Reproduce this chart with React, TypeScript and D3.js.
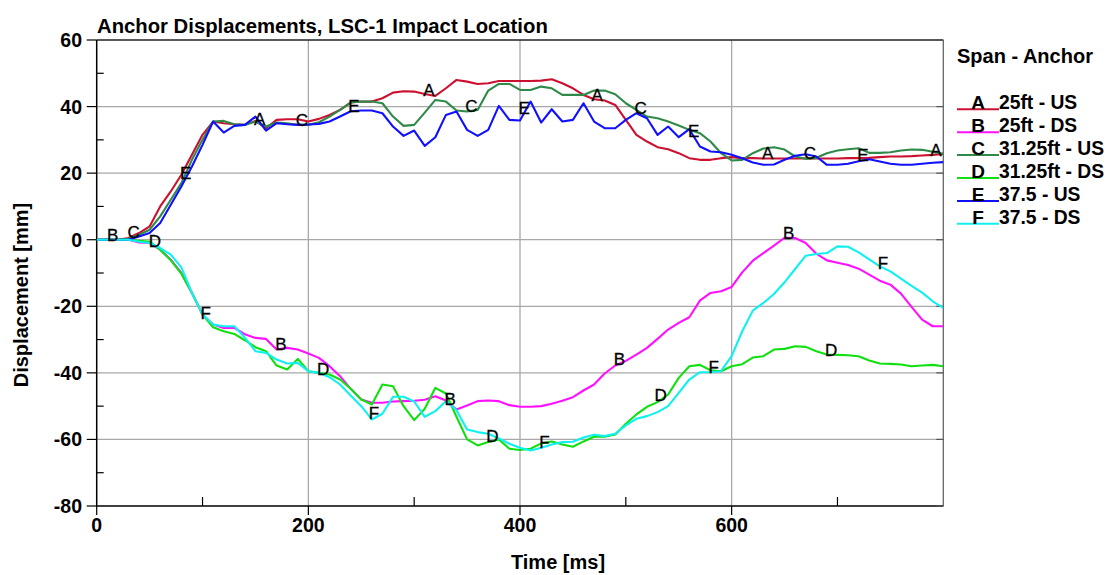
import React from "react";
import * as d3 from "d3";

// ---------- data ----------
const TIME_MS = [
  0, 10, 20, 30, 40, 50, 60, 70, 80, 90, 100, 110, 120, 130, 140, 150, 160, 170, 180, 190,
  200, 210, 220, 230, 240, 250, 260, 270, 280, 290, 300, 310, 320, 330, 340, 350, 360, 370, 380, 390,
  400, 410, 420, 430, 440, 450, 460, 470, 480, 490, 500, 510, 520, 530, 540, 550, 560, 570, 580, 590,
  600, 610, 620, 630, 640, 650, 660, 670, 680, 690, 700, 710, 720, 730, 740, 750, 760, 770, 780, 790, 800,
];

const A_25FT_US = [
  0, 0, 0, 0.5, 2, 4, 10, 14.5, 19.5, 25.5, 31.5, 35.5, 35, 34.7, 34.5, 35.7, 33.5, 36, 36.2, 36.2,
  35.5, 36.3, 37.5, 39, 41.2, 41.5, 41.5, 42.5, 44.2, 44.6, 44.5, 43.8, 43.2, 45.5, 48, 47.5, 46.8, 47, 47.7, 47.7,
  47.7, 47.7, 47.8, 48.2, 47, 45.5, 43.5, 42.2, 41.8, 40.5, 36, 31.5, 29.5, 27.8, 27.2, 26, 24.5, 24, 24, 24.5,
  24.8, 24.5, 24.5, 24.4, 24.4, 24.4, 24.4, 24.4, 24.4, 24.4, 24.4, 24.5, 24.5, 24.6, 24.8, 25, 25, 25.1, 25.3, 25.5, 25.8,
];

const B_25FT_DS = [
  0, 0, 0, 0, -0.8, -1, -3, -6, -10, -16, -22.5, -25.5, -26.5, -26.5, -28.4, -29.5, -29.8, -33, -32.5, -33,
  -34.2, -35.5, -38, -41, -44.8, -48, -49, -49, -48.6, -48.5, -48.4, -48.1, -47, -48.3, -51, -49.8, -48.5, -48.3, -48.5, -49.7,
  -50.2, -50.2, -50, -49.3, -48.4, -47.3, -45.3, -43.5, -40.2, -37.8, -36.4, -34.5, -32.5, -29.8, -27, -25, -23.3, -18.3, -16, -15.5,
  -14.2, -9.8, -6.3, -4, -1.8, 0.6, 0.5, -1, -4.2, -6.2, -6.9, -7.6, -8.7, -10.5, -12.3, -13.5, -16.2, -20.2, -24, -26, -26,
];

const C_3125FT_US = [
  0, 0, 0, 0.3, 1.5, 3, 7, 12, 17, 24, 30, 35.5, 35.7, 34.7, 34.5, 35.5, 34, 35.2, 35, 34.5,
  34.5, 35.3, 37, 39, 41.2, 41.5, 41.5, 41, 37, 34.2, 34.5, 38.2, 42, 41.5, 38.8, 38.5, 39, 44.8, 46.8, 46.8,
  45, 45, 46, 45.5, 43.5, 43.5, 43.5, 44.8, 44.8, 43.7, 41, 39, 37, 36.5, 35.5, 34.3, 33, 32, 29.5, 26,
  23.8, 24, 26, 27.4, 27.8, 27.1, 25, 24.3, 24.6, 26, 26.8, 27.2, 27.5, 26.1, 26.1, 26.3, 26.8, 27.1, 27, 26.4, 25.8,
];

const D_3125FT_DS = [
  0, 0, 0, 0, -0.3, -0.6, -3, -6.2, -10.2, -16, -22.5, -26.3, -27.5, -28.3, -30.2, -32.3, -33.5, -37.8, -39, -35.8,
  -39.5, -40, -40.5, -42, -44.8, -48, -49.5, -43.5, -44, -50, -54.2, -50.8, -44.5, -46.2, -53.2, -60, -61.8, -60.8, -60, -62.8,
  -63.2, -62.8, -61.2, -60.6, -61.5, -62.2, -60.6, -59.2, -59.2, -58.5, -55.3, -52.5, -50.2, -48.8, -46.5, -41.5, -38, -37.6, -39.2, -39.5,
  -38, -37.4, -35.4, -35, -33, -32.8, -32, -32.2, -33.5, -34.5, -34.6, -34.7, -35, -36.3, -37.2, -37.3, -37.5, -38, -37.8, -37.6, -38,
];

const E_375_US = [
  0, 0, 0, 0, 1, 2, 5, 10.5, 16, 22, 28.5, 35.5, 32.2, 34.2, 34.5, 37, 32.8, 35, 34.7, 34.5,
  34.6, 34.8, 35.5, 37, 38.6, 38.8, 38.8, 38, 34, 31.2, 32.8, 28.2, 30.8, 37.5, 38.5, 33, 31.2, 33, 40.2, 36,
  35.8, 41.5, 35.2, 39.2, 35.5, 36, 41, 35.5, 33.5, 33.5, 36, 38, 36.5, 31.5, 34, 30.8, 33.2, 28, 26.5, 26.3,
  25.5, 24.5, 23.2, 22.5, 22.6, 24, 25.2, 25.7, 25, 22.5, 22.5, 22.8, 23.6, 24.2, 23.5, 22.8, 22.5, 22.5, 22.8, 23.1, 23.3,
];

const F_375_DS = [
  0, 0, 0, 0, -0.6, -1, -2.5, -4.5, -8.3, -16, -22.5, -25.5, -26, -26, -29.4, -33.5, -34, -36, -37.2, -37,
  -39.5, -40, -41.3, -43.5, -46.8, -50, -54, -52.3, -47.2, -47.2, -48.6, -53.2, -51.5, -48.5, -51.2, -57, -57.8, -58.3, -59.7, -61.3,
  -62.5, -63.3, -62.5, -61.5, -60.8, -60.7, -59.4, -58.6, -59, -58.3, -55.8, -53.8, -53, -51.8, -50, -46, -42, -39.8, -39.8, -39.5,
  -35, -27.5, -21.3, -19, -16.3, -12.8, -8.8, -4.8, -4.3, -4, -2, -2.1, -3.8, -5.9, -8, -9.5, -11.7, -13.9, -15.9, -18.5, -20.5,
];

const SERIES_LETTERS = ["A", "B", "C", "D", "E", "F"];
const SERIES_NAMES = ["25ft - US", "25ft - DS", "31.25ft - US", "31.25ft - DS", "37.5 - US", "37.5 - DS"];
const SERIES_COLORS = ["#cc1030", "#ff10ff", "#2f8a4a", "#10e010", "#1010ff", "#10f0f0"];
const SERIES_VALUES = [A_25FT_US, B_25FT_DS, C_3125FT_US, D_3125FT_DS, E_375_US, F_375_DS];

// times (ms) at which the letter markers sit on each curve
const LABEL_TIMES_A = [154, 314, 473, 634, 793];
const LABEL_TIMES_B = [15, 174, 334, 494, 654];
const LABEL_TIMES_C = [35, 194, 354, 514, 674];
const LABEL_TIMES_D = [55, 214, 374, 533, 694];
const LABEL_TIMES_E = [84, 243, 404, 564, 724];
const LABEL_TIMES_F = [103, 262, 423, 583, 743];
const LABEL_TIMES = [LABEL_TIMES_A, LABEL_TIMES_B, LABEL_TIMES_C, LABEL_TIMES_D, LABEL_TIMES_E, LABEL_TIMES_F];

const X_TICKS = [0, 200, 400, 600];
const X_MINOR = [100, 300, 500, 700];
const X_GRID = [200, 400, 600];
const Y_TICKS = [60, 40, 20, 0, -20, -40, -60, -80];
const Y_MINOR = [50, 30, 10, -10, -30, -50, -70];
const Y_GRID = [40, 20, 0, -20, -40, -60];

const TITLE = "Anchor Displacements, LSC-1 Impact Location";
const X_TITLE = "Time [ms]";
const Y_TITLE = "Displacement [mm]";
const LEGEND_TITLE = "Span - Anchor";

// ---------- chart ----------
const W = 1109;
const H = 575;
const FONT = "'Liberation Sans', Arial, sans-serif";

export default function App() {
  const x = d3.scaleLinear().domain([0, 800]).range([96.7, 943.3]);
  const y = d3.scaleLinear().domain([-80, 60]).range([506, 40]);
  const [x0, x1] = x.range();
  const [yb, yt] = y.range();

  const line = d3
    .line<number>()
    .x((_, i) => x(TIME_MS[i]))
    .y((d) => y(d));

  const interp = (vals: number[], t: number) => {
    const i = d3.bisectRight(TIME_MS, t) - 1;
    const j = Math.min(i + 1, TIME_MS.length - 1);
    if (i === j) return vals[i];
    const f = (t - TIME_MS[i]) / (TIME_MS[j] - TIME_MS[i]);
    return vals[i] + f * (vals[j] - vals[i]);
  };

  return (
    <svg
      width={W}
      height={H}
      style={{ position: "absolute", left: 0, top: 0, background: "#fff" }}
      fontFamily={FONT}
    >
      <rect x={0} y={0} width={W} height={H} fill="#fff" />
      <defs>
        <clipPath id="plotClip">
          <rect x={x0} y={yt} width={x1 - x0} height={yb - yt} />
        </clipPath>
      </defs>

      {/* grid */}
      {X_GRID.map((t) => (
        <line key={"gx" + t} x1={x(t)} x2={x(t)} y1={yt} y2={yb} stroke="#a8a8a8" strokeWidth={1.3} />
      ))}
      {Y_GRID.map((v) => (
        <line key={"gy" + v} x1={x0} x2={x1} y1={y(v)} y2={y(v)} stroke="#a8a8a8" strokeWidth={1.3} />
      ))}

      {/* frame */}
      <line x1={x0} x2={x1} y1={yt} y2={yt} stroke="#222" strokeWidth={1.3} />
      <line x1={x1} x2={x1} y1={yt} y2={yb} stroke="#666" strokeWidth={1.3} />
      <line x1={x0} x2={x0} y1={yt} y2={yb} stroke="#000" strokeWidth={1.5} />
      <line x1={x0} x2={x1} y1={yb} y2={yb} stroke="#000" strokeWidth={1.5} />

      {/* y ticks */}
      {Y_TICKS.map((v) => (
        <g key={"yt" + v}>
          <line x1={x0 - 10} x2={x0} y1={y(v)} y2={y(v)} stroke="#000" strokeWidth={1.2} />
          <line x1={x1 - 7} x2={x1} y1={y(v)} y2={y(v)} stroke="#555" strokeWidth={1.2} />
          <text x={82} y={y(v)} dy="0.36em" textAnchor="end" fontSize={19.5} fontWeight="bold" fill="#000">
            {v}
          </text>
        </g>
      ))}
      {Y_MINOR.map((v) => (
        <line key={"ym" + v} x1={x0} x2={x0 + 7} y1={y(v)} y2={y(v)} stroke="#000" strokeWidth={1.2} />
      ))}

      {/* x ticks */}
      {X_TICKS.map((t) => (
        <g key={"xt" + t}>
          <line x1={x(t)} x2={x(t)} y1={yb} y2={yb + 9} stroke="#000" strokeWidth={1.2} />
          <text x={x(t)} y={532} textAnchor="middle" fontSize={19.5} fontWeight="bold" fill="#000">
            {t}
          </text>
        </g>
      ))}
      {X_MINOR.map((t) => (
        <line key={"xm" + t} x1={x(t)} x2={x(t)} y1={yb - 9} y2={yb} stroke="#000" strokeWidth={1.2} />
      ))}

      {/* series */}
      <g clipPath="url(#plotClip)">
        {SERIES_VALUES.map((vals, k) => (
          <path
            key={"s" + k}
            d={line(vals) || ""}
            fill="none"
            stroke={SERIES_COLORS[k]}
            strokeWidth={2.1}
            strokeLinejoin="round"
          />
        ))}
      </g>

      {/* letters on curves */}
      {LABEL_TIMES.map((times, k) =>
        times.map((t) => (
          <text
            key={"l" + k + "_" + t}
            x={x(t)}
            y={y(interp(SERIES_VALUES[k], t)) + 1}
            textAnchor="middle"
            fontSize={17}
            fill="#000"
            stroke="#000"
            strokeWidth={0.3}
          >
            {SERIES_LETTERS[k]}
          </text>
        ))
      )}

      {/* titles */}
      <text x={97} y={33} fontSize={20.3} fontWeight="bold" fill="#000">
        {TITLE}
      </text>
      <text x={558} y={569} textAnchor="middle" fontSize={20} fontWeight="bold" fill="#000">
        {X_TITLE}
      </text>
      <text
        transform="translate(28,295) rotate(-90)"
        textAnchor="middle"
        fontSize={20}
        fontWeight="bold"
        fill="#000"
      >
        {Y_TITLE}
      </text>

      {/* legend */}
      <text x={957} y={63} fontSize={20} fontWeight="bold" fill="#000">
        {LEGEND_TITLE}
      </text>
      {SERIES_NAMES.map((name, k) => {
        const by = 109.3 + k * 22.9;
        return (
          <g key={"lg" + k}>
            <line x1={957} x2={999} y1={by} y2={by} stroke={SERIES_COLORS[k]} strokeWidth={2} />
            <text x={978} y={by} textAnchor="middle" fontSize={19} fontWeight="bold" fill="#000">
              {SERIES_LETTERS[k]}
            </text>
            <text x={999} y={by} fontSize={19.3} fontWeight="bold" fill="#000">
              {name}
            </text>
          </g>
        );
      })}
    </svg>
  );
}
